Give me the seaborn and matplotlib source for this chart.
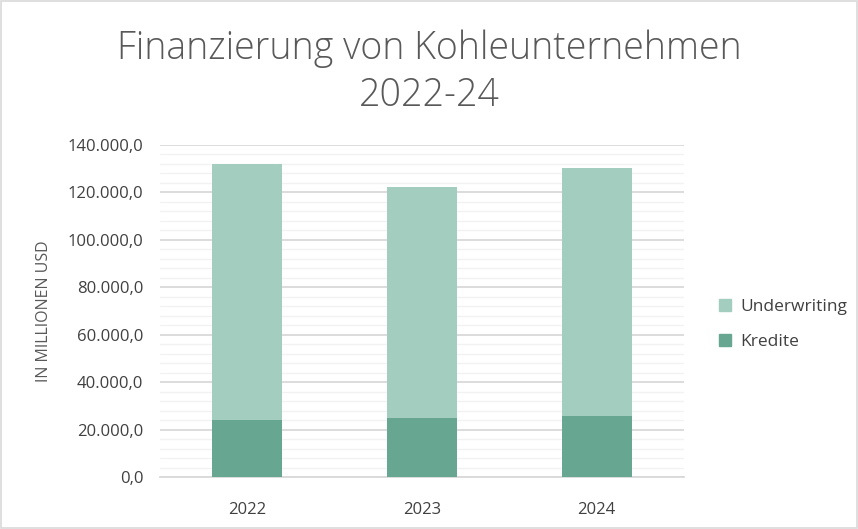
import matplotlib
matplotlib.use('Agg')
import matplotlib.pyplot as plt
import seaborn as sns
import pandas as pd
from matplotlib.ticker import FuncFormatter, MultipleLocator
from matplotlib.patches import Patch, Rectangle

jahre = ['2022', '2023', '2024']
kredite = [24000, 24900, 25700]
underwriting = [108000, 97500, 104700]

farbe_underwriting = '#A3CDBF'
farbe_kredite = '#67A792'
grau = '#595959'

df = pd.DataFrame({'jahr': jahre, 'kredite': kredite, 'underwriting': underwriting})
df['gesamt'] = df['kredite'] + df['underwriting']

sns.set_style('white')
plt.rcParams['font.family'] = ['Open Sans', 'DejaVu Sans']

fig = plt.figure(figsize=(8.58, 5.29), dpi=100)
ax = fig.add_axes([0.1865, 0.0983, 0.6107, 0.6276])

sns.barplot(data=df, x='jahr', y='gesamt', color=farbe_underwriting, width=0.4,
            saturation=1, linewidth=0, ax=ax, zorder=3)
sns.barplot(data=df, x='jahr', y='kredite', color=farbe_kredite, width=0.4,
            saturation=1, linewidth=0, ax=ax, zorder=3)

ax.set_xlim(-0.5, 2.5)
ax.set_ylim(0, 140000)
ax.yaxis.set_major_locator(MultipleLocator(20000))
ax.yaxis.set_minor_locator(MultipleLocator(4000))
ax.grid(axis='y', which='major', color='#D9D9D9', linewidth=1.3, zorder=0)
ax.grid(axis='y', which='minor', color='#F2F2F2', linewidth=1.0, zorder=0)
ax.set_axisbelow(True)

def de_format(v, pos):
    s = f'{v:,.1f}'
    return s.replace(',', 'X').replace('.', ',').replace('X', '.')

ax.yaxis.set_major_formatter(FuncFormatter(de_format))
ax.tick_params(axis='both', which='both', length=0, labelsize=12, colors=grau)
ax.tick_params(axis='y', pad=12)
ax.tick_params(axis='x', pad=18)
for lab in ax.get_xticklabels() + ax.get_yticklabels():
    lab.set_color('#404040')

for s in ['top', 'right', 'left']:
    ax.spines[s].set_visible(False)
ax.spines['bottom'].set_color('#D9D9D9')
ax.spines['bottom'].set_linewidth(1.3)

ax.set_xlabel('')
ax.set_ylabel('IN MILLIONEN USD', fontsize=11.5, color=grau, labelpad=11)

fig.text(0.5, 0.864, 'Finanzierung von Kohleunternehmen\n2022-24', ha='center', va='center',
         fontsize=27, color=grau, linespacing=1.3, fontweight='light')

handles = [Patch(color=farbe_underwriting, label='Underwriting'),
           Patch(color=farbe_kredite, label='Kredite')]
fig.legend(handles=handles, loc='center left', bbox_to_anchor=(0.82, 0.387), frameon=False,
           fontsize=12.5, handlelength=0.7, handleheight=0.7, handletextpad=0.5,
           labelspacing=1.1, labelcolor='#404040')

fig.patches.append(Rectangle((0.001, 0.001), 0.998, 0.998, transform=fig.transFigure,
                             fill=False, edgecolor='#D9D9D9', linewidth=1.2))

fig.savefig('out.png', dpi=100)
